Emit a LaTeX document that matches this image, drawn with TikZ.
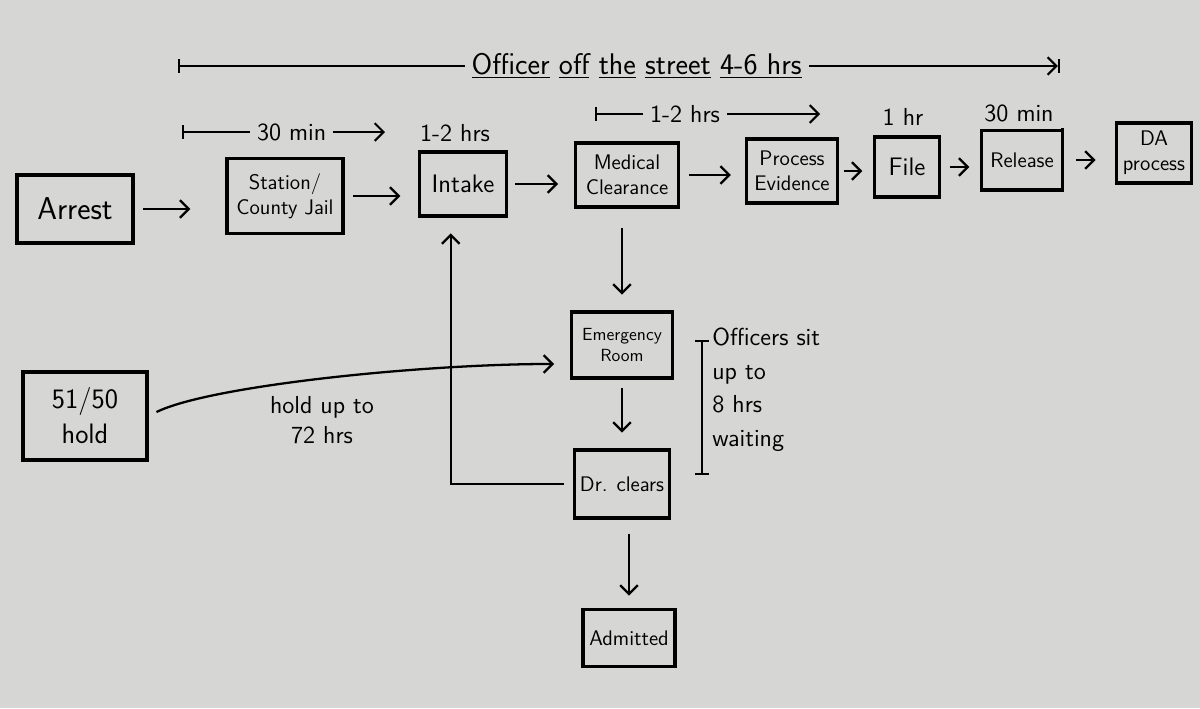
\documentclass[tikz,border=0pt]{standalone}
\usetikzlibrary{arrows,arrows.meta,shapes}
\usetikzlibrary{calc}
\renewcommand{\familydefault}{\sfdefault}
\definecolor{paper}{RGB}{214,214,212}
\tikzstyle{box}=[rectangle,draw,line width=1.8pt,fill=paper,align=center,inner sep=2pt]
\tikzstyle{edge} = [draw,line width=1.3pt,->,shorten <=5pt,shorten >=9pt]
\tikzstyle{span} = [draw,line width=1.2pt,|->]
\tikzstyle{weight} = [font=\fontsize{14}{17}\selectfont,fill=paper,inner sep=4pt]
\tikzstyle{note} = [font=\fontsize{14}{19}\selectfont,align=left,inner sep=0pt]

\begin{document}
\begin{tikzpicture}[x=0.02cm, y=-0.02cm, >={Straight Barb[length=5pt,width=10pt]}]

    \fill[paper] (0,0) rectangle (1200,708);
    \useasboundingbox (0,0) rectangle (1200,708);

    % main row
    \foreach \pos/\name/\w/\h/\fnt/\txt in {{(75,209)/arrest/116/68/\fontsize{18}{21}\selectfont/Arrest}, {(285,196)/jail/116/75/\large/{Station{/}\\County Jail}}, {(463,184)/intake/87/64/\Large/Intake}, {(627,175)/medical/103/64/\large/{Medical\\Clearance}}, {(792,171)/evidence/91/64/\large/{Process\\Evidence}}, {(907,167)/file/65/60/\Large/File}, {(1022,160)/release/81/60/\large/Release}, {(1154,153)/da/75/60/\large/{DA\\process}}}
    	\node[box,font=\fnt,minimum width=\w*0.02cm,minimum height=\h*0.02cm] (\name) at \pos {\txt};

    % hospital branch
    \foreach \pos/\name/\w/\h/\fnt/\txt in {{(622,345)/er/101/66/\normalsize/{Emergency\\Room}}, {(622,484)/drclears/95/68/\large/{Dr. clears}}, {(629,638)/admitted/92/57/\large/Admitted}, {(85,416)/hold/124/88/\fontsize{16}{20}\selectfont/{51{/}50\\hold}}}
    	\node[box,font=\fnt,minimum width=\w*0.02cm,minimum height=\h*0.02cm] (\name) at \pos {\txt};

    % Connect boxes
    \foreach \source/ \dest/\a/\b in {arrest/jail/5/20, jail/intake/5/10, intake/medical/4/9, medical/evidence/5/8, evidence/file/3/6, file/release/5/6, release/da/7/11}
        \path[edge,shorten <=\a pt,shorten >=\b pt] (\source.east) -- (\source.east -| \dest.west);

    \path[edge,shorten <=11pt] (er.north |- medical.south) -- (er.north);
    \path[edge] (er.south) -- (drclears.north);
    \path[edge,shorten <=8pt,shorten >=7pt] (admitted.north |- drclears.south) -- (admitted.north);
    \path[edge] (drclears.west) -| (intake.250);
    \path[edge] (hold.east) .. controls +(60,-30) and +(-150,0) .. (er.200);

    \node[weight,align=center] (holdlbl) at (322,420) {hold up to\\72 hrs};

%Times

    \coordinate (offL) at (178,66);
    \coordinate (offR) at (1060,66);
    \path[span,|->|] (offL) -- node[weight,pos=0.52,font=\fontsize{17}{20}\selectfont] (officer) {\underline{Officer}\ \underline{off}\ \underline{the}\ \underline{street}\ \underline{4-6 hrs}} (offR);

    \coordinate (minL) at (182,132);
    \coordinate (minR) at (385,132);
    \path[span] (minL) -- node[weight,pos=0.54] (thirty) {30 min} (minR);

    \coordinate (medL) at (595,114);
    \coordinate (medR) at (820,114);
    \path[span] (medL) -- node[weight,pos=0.4] (onetwo) {1-2 hrs} (medR);

    \node[weight] (intakelbl) at (455,133) {1-2 hrs};
    \node[weight] (filelbl) at (903,117) {1 hr};
    \node[weight] (releaselbl) at (1019,113) {30 min};

    % waiting bracket
    \coordinate (waitT) at (702,340);
    \coordinate (waitB) at (702,475);
    \path[draw,line width=1.2pt,|-|] (waitT) -- (waitB);
    \node[note,anchor=north west] (waitlbl) at (712,328) {Officers sit\\up to\\8 hrs\\waiting};

\end{tikzpicture}
\end{document}
